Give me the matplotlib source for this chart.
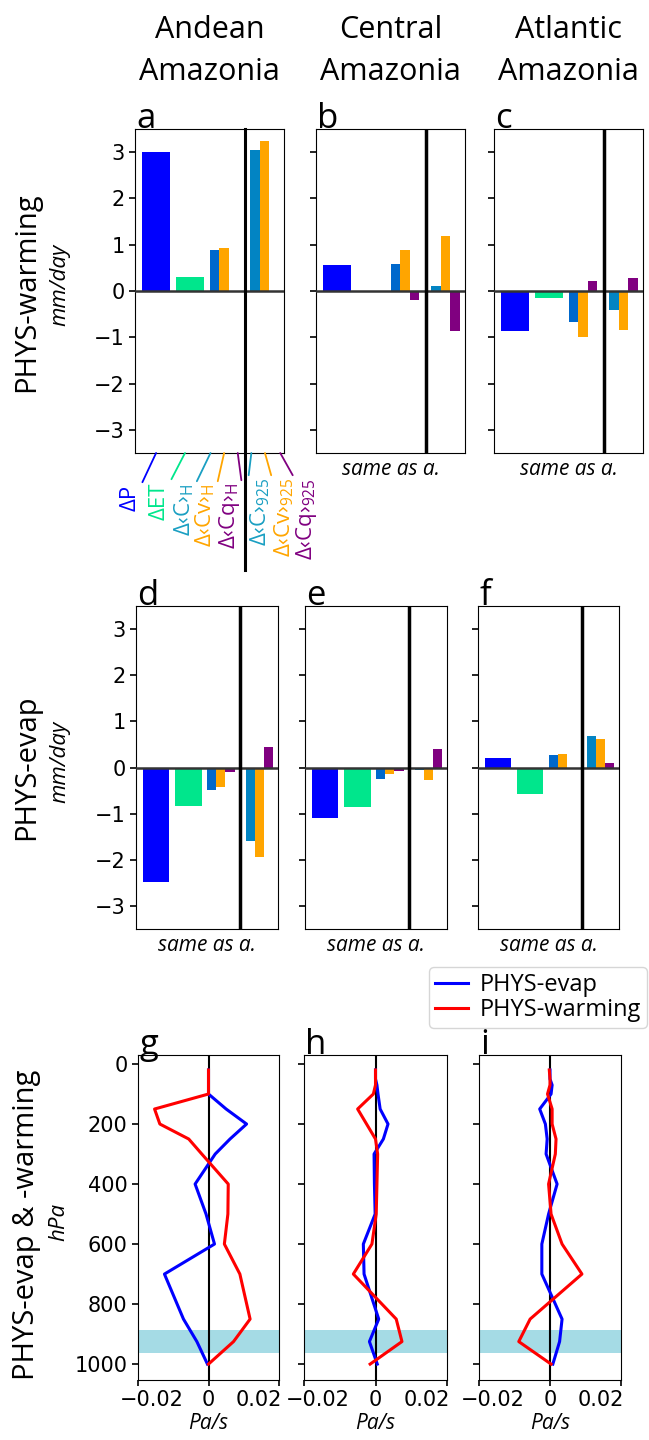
import matplotlib
matplotlib.use('Agg')
import matplotlib.pyplot as plt
from matplotlib.lines import Line2D
from matplotlib.transforms import ScaledTranslation

plt.rcParams['font.family'] = ['DejaVu Sans']
plt.rcParams['mathtext.fontset'] = 'custom'
plt.rcParams['mathtext.rm'] = 'Open Sans'
plt.rcParams['mathtext.it'] = 'Open Sans:italic'
plt.rcParams['mathtext.default'] = 'regular'

HUM = ['Open Sans', 'DejaVu Sans']

# ---- data ----
regions = ['Andean\nAmazonia', 'Central\nAmazonia', 'Atlantic\nAmazonia']
terms = ['ΔP', 'ΔET', 'Δ‹C›$_{H}$', 'Δ‹Cv›$_{H}$', 'Δ‹Cq›$_{H}$',
         'Δ‹C›$_{925}$', 'Δ‹Cv›$_{925}$', 'Δ‹Cq›$_{925}$']

warm_andean = [3.01, 0.31, 0.89, 0.92, 0.0, 3.04, 3.23, 0.0]
warm_central = [0.56, 0.0, 0.59, 0.89, -0.20, 0.11, 1.19, -0.86]
warm_atlantic = [-0.86, -0.15, -0.67, -0.99, 0.22, -0.40, -0.84, 0.28]

evap_andean = [-2.48, -0.83, -0.48, -0.42, -0.09, -1.60, -1.93, 0.45]
evap_central = [-1.10, -0.86, -0.26, -0.15, -0.07, -0.05, -0.28, 0.41]
evap_atlantic = [0.21, -0.57, 0.27, 0.30, 0.0, 0.69, 0.61, 0.10]

levels = [20, 50, 70, 100, 150, 200, 250, 300, 400, 500, 600, 700, 850, 925, 1000]
w_evap_andean = [0, 0, 0, 0, 0.0050, 0.0108, 0.0061, 0.0019, -0.0038, -0.0007,
                 0.0017, -0.0125, -0.0071, -0.0033, -0.0003]
w_warm_andean = [0, 0, 0, 0, -0.0153, -0.0138, -0.0056, -0.0019, 0.0056, 0.0055,
                 0.0045, 0.0089, 0.0118, 0.0071, 0.0]
w_evap_central = [0, 0, 0.0004, 0.0007, 0.0013, 0.0035, 0.0022, -0.0004, -0.0003,
                  -0.0001, -0.0034, -0.0032, 0.0009, -0.0017, 0.0005]
w_warm_central = [0, 0, 0, -0.0006, -0.0050, -0.0025, 0.0, 0.0006, 0.0004, 0.0002,
                  -0.0010, -0.0062, 0.0058, 0.0074, -0.0015]
w_evap_atlantic = [0, 0, 0.0006, 0.0003, -0.0029, -0.0013, -0.0008, -0.0011, 0.0020,
                   -0.0004, -0.0023, -0.0023, 0.0034, 0.0027, 0.0008]
w_warm_atlantic = [-0.0002, 0, 0, -0.0007, 0.0006, 0.0006, 0.0017, 0.0015, -0.0004,
                   0.0003, 0.0034, 0.0090, -0.0056, -0.0088, 0.0003]

bar_colors = ['#0000ff', '#00e68c', '#0068cc', '#ffa500', '#800080',
              '#0284c3', '#ffa500', '#800080']
label_colors = ['#0000ff', '#00e68c', '#1a9fc2', '#ffa500', '#800080',
                '#1a9fc2', '#ffa500', '#800080']

# bar layout: P, ET, then two groups of three
gw = 0.28
xpos = [0, 1, 2 - gw, 2, 2 + gw, 3.18 - gw, 3.18, 3.18 + gw]
wid = [0.82, 0.82] + [gw] * 6
sep = 2.6

W, H = 649, 1440
fig = plt.figure(figsize=(W / 100, H / 100), dpi=100)


def ax_at(l, r, t, b):
    return fig.add_axes([l / W, 1 - b / H, (r - l) / W, (b - t) / H])


row1 = [(135, 284), (316, 465), (494, 643)]
row2 = [(136, 278), (305, 447), (478, 619)]
row3 = [(138, 279), (304, 447), (479, 621)]

bars = [[warm_andean, warm_central, warm_atlantic],
        [evap_andean, evap_central, evap_atlantic]]
letters = ['abc', 'def', 'ghi']


def bar_panel(ax, vals, first, letter, same_as=True):
    ax.bar(xpos, vals, width=wid, color=bar_colors, zorder=2)
    ax.axhline(0, color='0.2', lw=1.8, zorder=3)
    ax.set_xlim(-0.62, 3.76)
    ax.set_ylim(-3.5, 3.5)
    ax.set_xticks([])
    ax.set_yticks([-3, -2, -1, 0, 1, 2, 3])
    ax.tick_params(axis='y', length=4, width=1.2, labelsize=15)
    if not first:
        ax.set_yticklabels([])
    ax.text(0.01, 1.004, letter, transform=ax.transAxes, ha='left', va='baseline',
            fontsize=25, family=HUM)
    if same_as:
        ax.text(0.5, -0.02, 'same as a.', transform=ax.transAxes, ha='center',
                va='top', fontsize=15, style='italic', family=HUM)


for r, (rowpos, t, b) in enumerate([(row1, 129, 453), (row2, 606, 929)]):
    for c in range(3):
        ax = ax_at(rowpos[c][0], rowpos[c][1], t, b)
        is_a = (r == 0 and c == 0)
        bar_panel(ax, bars[r][c], c == 0, letters[r][c], same_as=not is_a)
        if is_a:
            ax.axvline(sep, ymin=-0.36, ymax=1, color='k', lw=2.2, clip_on=False, zorder=4)
            # term labels under panel a
            ann_x = [0, 0.85, 1.6, 2.0, 2.4, 2.8, 3.2, 3.65]
            ann_dx = [-15, -15, -15, -7, 4, -3, 7, 14]
            ann_dy = [-32, -29, -31, -31, -30, -25, -25, -25]
            for i, lbl in enumerate(terms):
                left = i < 5
                ax.annotate(lbl, xy=(ann_x[i], 0), xycoords=('data', 'axes fraction'),
                            xytext=(ann_dx[i] * 0.72, ann_dy[i] * 0.72),
                            textcoords='offset points', rotation=90,
                            ha='right' if left else 'left', va='top',
                            color=label_colors[i], fontsize=16, family=HUM,
                            annotation_clip=False,
                            arrowprops=dict(arrowstyle='-', color=label_colors[i], lw=1.3,
                                            relpos=(1, 1) if left else (0, 1),
                                            shrinkA=0, shrinkB=0))
        else:
            ax.axvline(sep, color='k', lw=2.5, zorder=4)

# row labels
fig.text(27 / W, 1 - 292 / H, 'PHYS-warming', rotation=90, ha='center', va='center',
         fontsize=21, family=HUM)
fig.text(60 / W, 1 - 285 / H, 'mm/day', rotation=90, ha='center', va='center',
         fontsize=16, style='italic', family=HUM)
fig.text(27 / W, 1 - 767 / H, 'PHYS-evap', rotation=90, ha='center', va='center',
         fontsize=21, family=HUM)
fig.text(60 / W, 1 - 762 / H, 'mm/day', rotation=90, ha='center', va='center',
         fontsize=16, style='italic', family=HUM)
fig.text(27 / W, 1 - 1225 / H, 'PHYS-evap & -warming', rotation=90, ha='center',
         va='center', fontsize=21, family=HUM)
fig.text(59 / W, 1 - 1222 / H, 'hPa', rotation=90, ha='center', va='center',
         fontsize=16, style='italic', family=HUM)

# column titles
for c, name in enumerate(regions):
    cx = (row1[c][0] + row1[c][1]) / 2
    fig.text(cx / W, 1 - 87 / H, name, ha='center', va='bottom', fontsize=22,
             family=HUM, linespacing=1.5)

# profiles
profiles = [(w_evap_andean, w_warm_andean), (w_evap_central, w_warm_central),
            (w_evap_atlantic, w_warm_atlantic)]
for c in range(3):
    ax = ax_at(row3[c][0], row3[c][1], 1055, 1380)
    ax.axhspan(887.5, 962.5, color='#a5dbe5', lw=0, zorder=0)
    ax.axvline(0, color='k', lw=1.5, zorder=2)
    ev, wa = profiles[c]
    ax.plot(ev, levels, color='blue', lw=2.2, zorder=3)
    ax.plot(wa, levels, color='red', lw=2.2, zorder=4)
    ax.set_xlim(-0.02, 0.02)
    ax.set_ylim(1053, -30)
    ax.set_yticks([0, 200, 400, 600, 800, 1000])
    ax.tick_params(length=4, width=1.2, labelsize=15)
    ax.set_xticks([-0.02, 0, 0.02])
    ax.set_xticklabels(['\u22120.02', '0', '0.02'])
    for lab, dx in zip(ax.get_xticklabels(), [14, 0, -20]):
        lab.set_transform(lab.get_transform() + ScaledTranslation(dx / 100, 0, fig.dpi_scale_trans))
    if c > 0:
        ax.set_yticklabels([])
    ax.set_xlabel('Pa/s', fontsize=15, style='italic', family=HUM, labelpad=2)
    ax.text(0.01, 1.004, letters[2][c], transform=ax.transAxes, ha='left',
            va='baseline', fontsize=25, family=HUM)

handles = [Line2D([], [], color='blue', lw=2.2), Line2D([], [], color='red', lw=2.2)]
fig.legend(handles, ['PHYS-evap', 'PHYS-warming'], loc='upper right',
           bbox_to_anchor=(647 / W, 1 - 967 / H), prop={'family': HUM, 'size': 17},
           handlelength=1.4, labelspacing=0.05, borderpad=0.25, handletextpad=0.5,
           borderaxespad=0, edgecolor='0.8')

fig.savefig('out.png', dpi=100)
